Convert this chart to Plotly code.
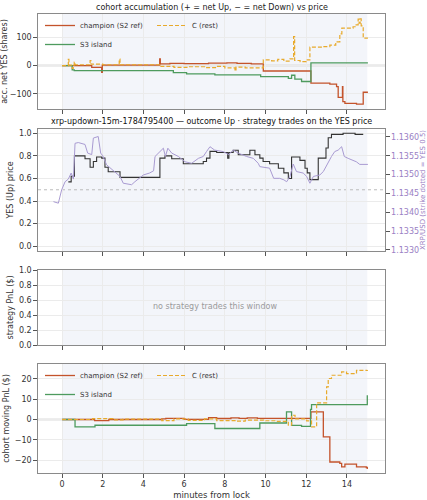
import plotly.graph_objects as go

# ---------------- data ----------------
WINDOW = [0, 15]

# panel 1: cohort accumulation (net YES shares), step series (minutes, shares)
ACC_CHAMPION = [(0, 0), (1.46, -6), (1.95, -24), (1.98, 2), (4.80, 24), (4.83, 6), (5.3, 8), (6.0, 7),
                (7.2, 9), (8.1, 10), (8.6, 8), (9.3, 6), (9.89, -19), (12.23, -62), (13.16, -65),
                (13.49, -74), (13.57, -112), (13.78, -74), (13.80, -127), (13.9, -133), (14.47, -136),
                (14.8, -94), (15.03, -94)]
ACC_S3 = [(0, 0), (0.5, -15), (0.6, -18), (5.47, -25), (6.12, -29), (7.51, -33), (9.76, -39),
          (11.12, -45), (11.28, -34), (11.44, -48), (11.77, -56), (12.23, 10), (15.03, 10)]
ACC_C = [(0, 0), (0.31, 22), (0.34, 2), (0.5, -10), (0.55, 2), (0.6, 12), (0.65, 3), (1.38, 18),
         (1.42, 5), (2.0, 3), (2.81, 23), (2.85, 3), (4.8, -3), (5.5, -6), (6.2, -4), (7.0, -7),
         (7.6, -3), (8.0, -8), (8.5, -19), (8.55, -5), (9.0, -8), (9.89, 20), (10.3, 17), (10.6, 22),
         (10.9, 16), (11.2, 24), (11.38, 102), (11.43, 18), (11.7, 14), (12.0, 20), (12.18, 65),
         (12.8, 67), (13.16, 72), (13.45, 84), (13.65, 112), (13.75, 132), (14.3, 137), (14.4, 144),
         (14.55, 164), (14.6, 150), (14.65, 165), (14.7, 140), (14.8, 97), (15.03, 97)]

# panel 2: YES (Up) price (step) and XRP/USD spot
YES_PRICE = [(0.31, 0.57), (0.45, 0.62), (0.61, 0.80), (1.13, 0.775), (1.38, 0.70), (1.54, 0.75),
             (1.70, 0.79), (1.95, 0.78), (2.11, 0.70), (2.27, 0.66), (2.85, 0.61), (4.81, 0.78),
             (5.06, 0.80), (5.39, 0.775), (5.96, 0.73), (6.94, 0.75), (7.1, 0.78), (7.27, 0.84),
             (7.6, 0.83), (8.14, 0.78), (8.2, 0.83), (8.41, 0.85), (8.66, 0.81), (9.23, 0.85),
             (9.48, 0.81), (9.72, 0.78), (9.88, 0.75), (10.2, 0.73), (10.63, 0.69), (10.9, 0.65),
             (11.12, 0.60), (11.28, 0.79), (11.69, 0.76), (11.94, 0.69), (12.05, 0.65), (12.18, 0.59),
             (12.59, 0.78), (12.97, 0.87), (13.08, 0.96), (13.24, 0.99), (13.81, 1.00), (14.4, 0.99),
             (14.8, 0.99)]
XRP_USD = [(-0.42, 1.13428), (-0.18, 1.13424), (-0.02, 1.13459), (0.15, 1.13481), (0.31, 1.13488),
           (0.45, 1.13504), (0.56, 1.13488), (0.64, 1.13583), (0.8, 1.13585), (1.13, 1.13580),
           (1.26, 1.13557), (1.46, 1.13553), (1.54, 1.13597), (1.78, 1.13601), (1.9, 1.13557),
           (2.0, 1.13550), (2.19, 1.13526), (2.6, 1.13508), (2.85, 1.13495), (3.01, 1.13477),
           (3.42, 1.13473), (3.58, 1.13481), (4.0, 1.13499), (4.3, 1.13504), (4.5, 1.13510),
           (4.57, 1.13548), (4.81, 1.13561), (4.98, 1.13570), (5.08, 1.13548), (5.2, 1.13570),
           (5.39, 1.13557), (5.56, 1.13553), (5.72, 1.13548), (6.04, 1.13534), (6.37, 1.13530),
           (6.7, 1.13543), (6.94, 1.13548), (7.1, 1.13561), (7.27, 1.13574), (7.5, 1.13565),
           (7.92, 1.13561), (8.19, 1.13553), (8.41, 1.13565), (8.66, 1.13557), (9.07, 1.13548),
           (9.4, 1.13543), (9.64, 1.13530), (9.72, 1.13521), (10.2, 1.13517), (10.4, 1.13490),
           (10.7, 1.13490), (10.9, 1.13486), (11.04, 1.13481), (11.2, 1.13495), (11.36, 1.13528),
           (11.52, 1.13508), (11.85, 1.13504), (12.02, 1.13495), (12.18, 1.13477), (12.35, 1.13495),
           (12.67, 1.13499), (12.84, 1.13508), (13.08, 1.13534), (13.24, 1.13548), (13.4, 1.13561),
           (13.57, 1.13565), (13.74, 1.13574), (13.87, 1.13548), (14.06, 1.13543), (14.46, 1.13534),
           (14.63, 1.13527), (14.95, 1.13527), (15.03, 1.13527)]
STRIKE_YES = 0.5

# panel 3: strategy PnL (none this window)
STRATEGY_PNL = []

# panel 4: cohort moving PnL ($)
PNL_CHAMPION = [(0, 0), (1.6, -0.5), (2.3, 0), (4.9, 0.3), (5.1, 0.6), (6.0, 0.1), (7.2, 0.9),
                (7.6, 0.5), (8.3, 0.8), (8.7, 0.6), (9.1, 0.8), (9.6, 0.6), (10.0, 0.6), (12.23, 3.7),
                (12.84, -8.5), (13.16, -20.8), (13.65, -21.5), (13.74, -23.2), (13.9, -21.9),
                (14.47, -23.2), (14.95, -23.5), (15.0, -24.3)]
PNL_S3 = [(0, 0), (0.64, -3.6), (1.62, -2.8), (6.12, -2.0), (7.51, -4.4), (9.72, -1.7), (11.03, 3.7),
          (11.28, -2.9), (11.77, -3.4), (12.21, 5.0), (12.26, 7.3), (15.0, 11.9)]
PNL_C = [(0, 0), (1.5, 0.4), (2.5, -0.2), (3.0, 0.2), (4.9, -0.5), (5.5, 0.3), (6.2, -0.4), (7.0, 0.3),
         (7.6, -0.5), (8.5, -0.8), (9.0, -0.3), (9.9, -0.6), (10.5, -0.9), (11.12, -2.8), (11.28, 2.1),
         (11.45, 0.3), (12.02, -0.7), (12.26, -3.6), (12.51, 8.2), (13.0, 16.0), (13.08, 20.1),
         (13.24, 21.7), (13.74, 23.3), (13.98, 22.5), (14.47, 24.1), (15.0, 24.3)]

X_TICKS = [0, 2, 4, 6, 8, 10, 12, 14]

# ---------------- styles ----------------
C_CHAMP = "#c4532b"
C_S3 = "#4e9b5e"
C_C = "#e8aa2c"
C_YES = "#333333"
C_XRP = "#a99bd2"
C_PURPLE_TXT = "#9a80c4"
FONT = "DejaVu Sans"
W, H = 427, 500


def xs(pts):
    return [p[0] for p in pts]


def ys(pts):
    return [p[1] for p in pts]


fig = go.Figure()

# panel 1
fig.add_trace(go.Scatter(x=xs(ACC_CHAMPION), y=ys(ACC_CHAMPION), mode="lines", line_shape="hv",
                         line=dict(color=C_CHAMP, width=1.3), name="champion (S2 ref)",
                         xaxis="x", yaxis="y", legend="legend"))
fig.add_trace(go.Scatter(x=xs(ACC_S3), y=ys(ACC_S3), mode="lines", line_shape="hv",
                         line=dict(color=C_S3, width=1.3), name="S3 island",
                         xaxis="x", yaxis="y", legend="legend"))
fig.add_trace(go.Scatter(x=xs(ACC_C), y=ys(ACC_C), mode="lines", line_shape="hv",
                         line=dict(color=C_C, width=1.2, dash="4px,2px"), name="C (rest)",
                         xaxis="x", yaxis="y", legend="legend2"))

# panel 2
fig.add_trace(go.Scatter(x=xs(XRP_USD), y=ys(XRP_USD), mode="lines",
                         line=dict(color=C_XRP, width=1.0), name="XRP/USD",
                         xaxis="x2", yaxis="y5", showlegend=False))
fig.add_trace(go.Scatter(x=xs(YES_PRICE), y=ys(YES_PRICE), mode="lines", line_shape="hv",
                         line=dict(color=C_YES, width=1.1), name="YES (Up) price",
                         xaxis="x2", yaxis="y2", showlegend=False))

# panel 3 (empty)
fig.add_trace(go.Scatter(x=xs(STRATEGY_PNL), y=ys(STRATEGY_PNL), mode="lines",
                         xaxis="x3", yaxis="y3", showlegend=False))

# panel 4
fig.add_trace(go.Scatter(x=xs(PNL_CHAMPION), y=ys(PNL_CHAMPION), mode="lines", line_shape="hv",
                         line=dict(color=C_CHAMP, width=1.3), name="champion (S2 ref)",
                         xaxis="x4", yaxis="y4", legend="legend3"))
fig.add_trace(go.Scatter(x=xs(PNL_S3), y=ys(PNL_S3), mode="lines", line_shape="hv",
                         line=dict(color=C_S3, width=1.3), name="S3 island",
                         xaxis="x4", yaxis="y4", legend="legend3"))
fig.add_trace(go.Scatter(x=xs(PNL_C), y=ys(PNL_C), mode="lines", line_shape="hv",
                         line=dict(color=C_C, width=1.2, dash="4px,2px"), name="C (rest)",
                         xaxis="x4", yaxis="y4", legend="legend4"))

# ---------------- layout ----------------
XDOM = [38 / W, 385 / W]


def ydom(top_px, bot_px):
    return [1 - bot_px / H, 1 - top_px / H]


XR = [-1.18, 15.87]
axis_common = dict(showline=True, mirror=True, linecolor="#8a8a8a", linewidth=1.4,
                   ticks="outside", ticklen=3.5, tickwidth=0.9, tickcolor="#555",
                   gridcolor="#ebebeb", gridwidth=0.8, zeroline=False,
                   tickfont=dict(size=8, color="#333", family=FONT), automargin=False)


def xaxis(anchor, labels):
    d = dict(axis_common, domain=XDOM, range=XR, tickvals=X_TICKS, anchor=anchor,
             showticklabels=labels)
    return d


title_font = dict(size=8, color="#333", family=FONT)
leg_common = dict(xanchor="left", yanchor="top", bgcolor="rgba(0,0,0,0)",
                  font=dict(size=7, color="#333", family=FONT), itemwidth=30, tracegroupgap=0)

fig.update_layout(
    width=W, height=H, margin=dict(l=0, r=0, t=0, b=0),
    paper_bgcolor="white", plot_bgcolor="white",
    font=dict(family=FONT, size=8, color="#333"),
    xaxis=xaxis("y", False),
    xaxis2=xaxis("y2", False),
    xaxis3=xaxis("y3", False),
    xaxis4=dict(xaxis("y4", True), title=dict(text="minutes from lock", font=dict(size=8.5, color="#333"),
                                             standoff=4)),
    yaxis=dict(axis_common, domain=ydom(14, 109), range=[-153, 182], tickvals=[-100, 0, 100],
               anchor="x", title=dict(text="acc. net YES (shares)", font=title_font, standoff=4)),
    yaxis2=dict(axis_common, domain=ydom(129, 251), range=[-0.042, 1.038], dtick=0.2,
                tickformat=".1f", anchor="x2",
                title=dict(text="YES (Up) price", font=title_font, standoff=4)),
    yaxis3=dict(axis_common, domain=ydom(270, 345), range=[0, 1.0], dtick=0.2, tickformat=".1f",
                anchor="x3", title=dict(text="strategy PnL ($)", font=title_font, standoff=4)),
    yaxis4=dict(axis_common, domain=ydom(364, 473), range=[-26.2, 27.2], tickvals=[-20, -10, 0, 10, 20],
                anchor="x4", title=dict(text="cohort moving PnL ($)", font=title_font, standoff=4)),
    yaxis5=dict(overlaying="y2", side="right", anchor="x2", range=[1.13297, 1.13621], dtick=0.0005,
                tickformat=".4f", showgrid=False, zeroline=False, showline=False,
                ticks="outside", ticklen=3.5, tickwidth=0.9, tickcolor="#555", automargin=False,
                tickfont=dict(size=8, color=C_PURPLE_TXT, family=FONT),
                title=dict(text="XRP/USD (strike dotted = YES 0.5)",
                           font=dict(size=7, color=C_PURPLE_TXT, family=FONT), standoff=3)),
    legend=dict(leg_common, x=40 / W, y=1 - 11 / H),
    legend2=dict(leg_common, x=152 / W, y=1 - 11 / H),
    legend3=dict(leg_common, x=40 / W, y=1 - 361 / H),
    legend4=dict(leg_common, x=152 / W, y=1 - 361 / H),
)

# shaded trading window + reference lines
for xr, yr in [("x", "y"), ("x2", "y2"), ("x3", "y3"), ("x4", "y4")]:
    fig.add_shape(type="rect", xref=xr, yref=yr + " domain", x0=WINDOW[0], x1=WINDOW[1], y0=0, y1=1,
                  fillcolor="#f3f5fa", line_width=0, layer="below")
for xr, yr in [("x", "y"), ("x4", "y4")]:
    fig.add_shape(type="line", xref=xr + " domain", yref=yr, x0=0, x1=1, y0=0, y1=0,
                  line=dict(color="#dcdcdc", width=2), layer="below")
fig.add_shape(type="line", xref="x2 domain", yref="y2", x0=0, x1=1, y0=STRIKE_YES, y1=STRIKE_YES,
              line=dict(color="#bbbbbb", width=1, dash="dot"), layer="below")

# panel titles and note
xc = (XDOM[0] + XDOM[1]) / 2
fig.add_annotation(x=xc, y=1 - 7 / H, xref="paper", yref="paper", showarrow=False, yanchor="middle",
                   text="cohort accumulation (+ = net Up, − = net Down) vs price",
                   font=dict(size=8, color="#222", family=FONT))
fig.add_annotation(x=xc, y=1 - 121 / H, xref="paper", yref="paper", showarrow=False, yanchor="middle",
                   text="xrp-updown-15m-1784795400 — outcome Up · strategy trades on the YES price",
                   font=dict(size=8, color="#111", family=FONT))
fig.add_annotation(x=sum(WINDOW) / 2, y=0.52, xref="x3", yref="y3", showarrow=False,
                   text="no strategy trades this window", font=dict(size=8, color="#9a9a9a", family=FONT))

fig.write_html("out.html")
